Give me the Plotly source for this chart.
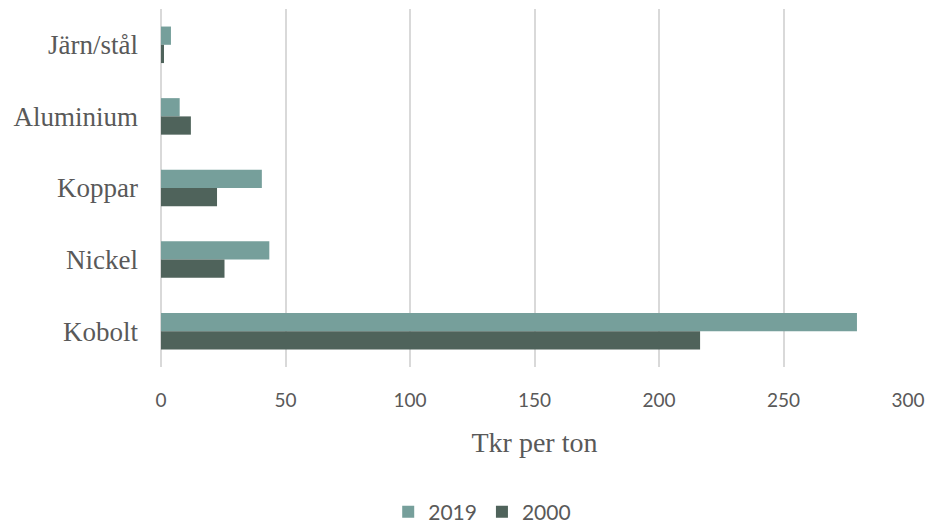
import plotly.graph_objects as go

categories = ["Järn/stål", "Aluminium", "Koppar", "Nickel", "Kobolt"]
values_2019 = [4.0, 7.5, 40.5, 43.5, 279.5]
values_2000 = [1.2, 12.0, 22.5, 25.5, 216.5]
x_ticks = [0, 50, 100, 150, 200, 250, 300]

serif = "Palatino Linotype, Book Antiqua, Palatino, Liberation Serif, serif"
sans = "Lato, Carlito, Calibri, sans-serif"

fig = go.Figure()
fig.add_trace(go.Bar(y=categories, x=values_2019, name="2019", orientation="h",
                     marker=dict(color="#769F9B", line=dict(width=0))))
fig.add_trace(go.Bar(y=categories, x=values_2000, name="2000", orientation="h",
                     marker=dict(color="#4F635B", line=dict(width=0))))

fig.update_layout(
    width=930, height=528,
    margin=dict(l=161, r=22, t=9, b=161, autoexpand=False),
    paper_bgcolor="white", plot_bgcolor="white",
    barmode="group", bargap=0.49, bargroupgap=0,
    showlegend=True,
    legend=dict(orientation="h", x=0.43, xanchor="center", y=-0.405, yanchor="middle",
                font=dict(family=sans, size=21, color="#595959"),
                itemwidth=30, traceorder="normal"),
    xaxis=dict(range=[0, 300], tickvals=x_ticks, showgrid=True, gridcolor="#D9D9D9",
               gridwidth=1.5, zeroline=True, zerolinecolor="#D9D9D9", zerolinewidth=1.5,
               showline=False, automargin=False,
               tickfont=dict(family=sans, size=19, color="#595959"),
               ticklabelstandoff=20,
               title=dict(text="Tkr per ton", font=dict(family=serif, size=28, color="#595959"),
                          standoff=22)),
    yaxis=dict(autorange="reversed", showgrid=False, zeroline=False, showline=False,
               automargin=False,
               tickfont=dict(family=serif, size=27, color="#595959"),
               ticklabelstandoff=22),
)

fig.write_html("out.html", config={"displayModeBar": False},
               post_script="document.body.style.margin='0';document.body.style.overflow='hidden';")
